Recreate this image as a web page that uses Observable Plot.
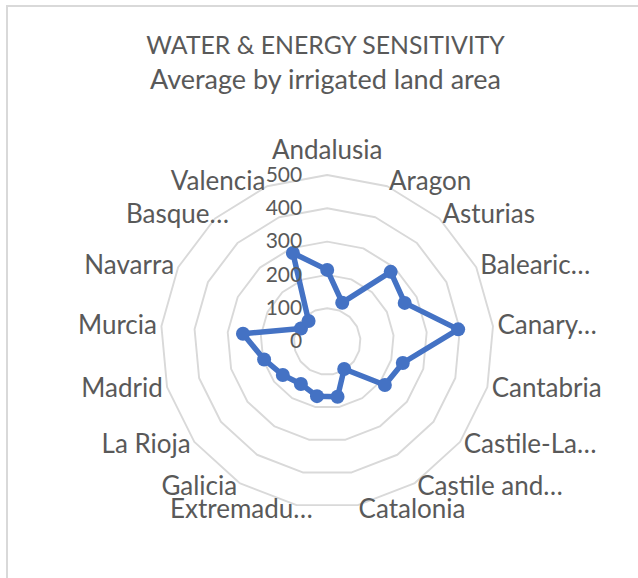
<!DOCTYPE html>
<html>
<head>
<meta charset="utf-8">
<script src="https://cdn.jsdelivr.net/npm/d3@7"></script>
<script src="https://cdn.jsdelivr.net/npm/@observablehq/plot@0.6"></script>
<style>
  html, body { margin: 0; padding: 0; background: #fff; }
  #wrap { position: relative; width: 638px; height: 578px; overflow: hidden; font-family: Lato, sans-serif; }
  #frame { position: absolute; left: 6px; top: 5px; width: 800px; height: 800px; border-top: 2px solid #d9d9d9; border-left: 2px solid #d9d9d9; pointer-events: none; }
  #titles { width: 638px; height: 110px; box-sizing: border-box; padding-left: 13px; padding-top: 27.85px; text-align: center; color: #595959; font-size: 27px; line-height: 34px; }
  #titles div { white-space: nowrap; }
  #titles .t1 { font-size: 24.8px; }
  #chart svg { display: block; }
</style>
</head>
<body>
<div id="wrap">
  <div id="frame"></div>
  <div id="titles">
    <div class="t1">WATER &amp; ENERGY SENSITIVITY</div>
    <div>Average by irrigated land area</div>
  </div>
  <div id="chart"></div>
</div>
<script>
const categories = ["Andalusia","Aragon","Asturias","Balearic…","Canary…","Cantabria","Castile-La…","Castile and…","Catalonia","Extremadu…","Galicia","La Rioja","Madrid","Murcia","Navarra","Basque…","Valencia"];
const values = [215, 125, 283, 260, 395, 236, 217, 97, 169, 167, 150, 167, 197, 254, 88, 83, 285];
const ticks = [0, 100, 200, 300, 400, 500];

const W = 638, H = 468;
const cx = 326.7, cy = 231;      // centre of the radar in the SVG
const k = 0.333;                 // pixels per value unit
const n = categories.length;
const ang = i => i * 2 * Math.PI / n;
const maxTick = d3.max(ticks);
const labelR = maxTick + 4.5 / k;  // label anchor radius just outside outer ring

const rings = ticks.filter(t => t > 0).flatMap(t =>
  d3.range(n).map(i => ({ring: t, x: t * Math.sin(ang(i)), y: t * Math.cos(ang(i))})));

const pts = categories.map((c, i) => ({c, v: values[i], x: values[i] * Math.sin(ang(i)), y: values[i] * Math.cos(ang(i))}));

const labels = categories.map((c, i) => {
  const s = Math.sin(ang(i)), co = Math.cos(ang(i));
  let side = s > 0.1 ? "start" : s < -0.1 ? "end" : "middle";
  let x = labelR * s;
  // Excel shifts truncated labels on the left side a little to the right
  if (side === "end" && c.endsWith("…")) x += 17 / k;
  return {c, side, top: co > 0.99, x, y: labelR * co};
});

const font = "Lato, sans-serif";
const txt = "#595959";

const plot = Plot.plot({
  width: W,
  height: H,
  margin: 0,
  x: {type: "linear", domain: [-cx / k, (W - cx) / k], range: [0, W], axis: null},
  y: {type: "linear", domain: [-(H - cy) / k, cy / k], range: [H, 0], axis: null},
  style: {fontFamily: font, background: "transparent"},
  marks: [
    Plot.line(rings, {x: "x", y: "y", z: "ring", curve: "linear-closed", stroke: "#d9d9d9", strokeWidth: 1.9}),
    Plot.line(pts, {x: "x", y: "y", curve: "linear-closed", stroke: "#4472C4", strokeWidth: 5.5, strokeLinejoin: "round"}),
    Plot.dot(pts, {x: "x", y: "y", r: 7, fill: "#4472C4", stroke: "none"}),
    Plot.text(ticks, {x: () => 0, y: d => d, text: d => String(d), textAnchor: "end", dx: -25, fill: txt, fontSize: 21}),
    Plot.text(labels.filter(d => d.side === "start"), {x: "x", y: "y", text: "c", textAnchor: "start", fill: txt, fontSize: 26}),
    Plot.text(labels.filter(d => d.side === "end"), {x: "x", y: "y", text: "c", textAnchor: "end", fill: txt, fontSize: 26}),
    Plot.text(labels.filter(d => d.side === "middle" && d.top), {x: "x", y: "y", text: "c", textAnchor: "middle", dy: -20, fill: txt, fontSize: 26}),
    Plot.text(labels.filter(d => d.side === "middle" && !d.top), {x: "x", y: "y", text: "c", textAnchor: "middle", fill: txt, fontSize: 26})
  ]
});
document.getElementById("chart").appendChild(plot);
</script>
</body>
</html>
